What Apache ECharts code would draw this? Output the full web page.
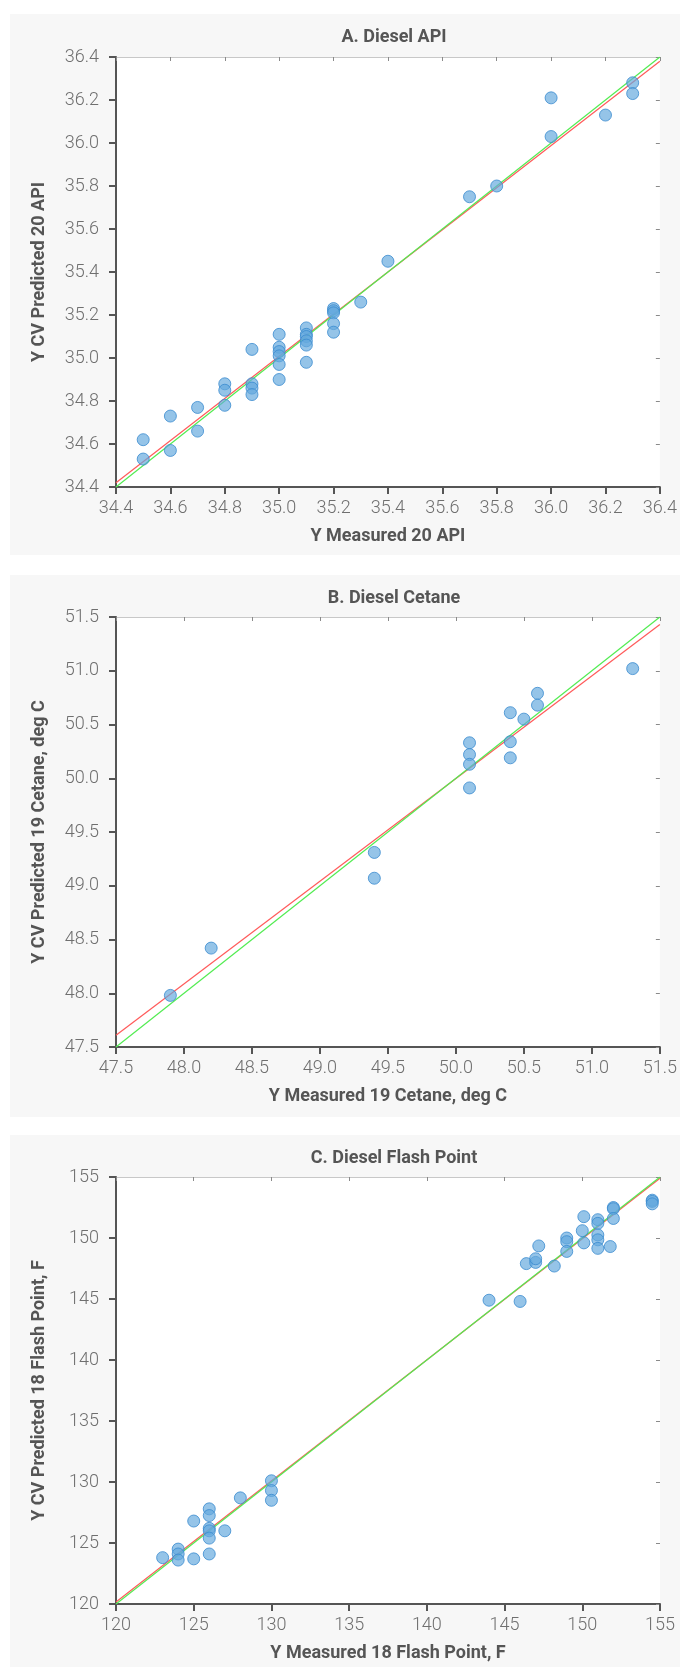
<!DOCTYPE html>
<html>
<head>
<meta charset="utf-8">
<title>Diesel CV predictions</title>
<script src="https://cdn.jsdelivr.net/npm/echarts@6/dist/echarts.min.js"></script>
<style>
  html, body { margin: 0; padding: 0; background: #ffffff; }
  body { width: 680px; height: 1667px; position: relative; overflow: hidden; }
  .panel { position: absolute; left: 10px; width: 670px; }
  #apiChart { top: 14px; height: 541px; }
  #cetaneChart { top: 575px; height: 542px; }
  #flashChart { top: 1135px; height: 532px; }
</style>
</head>
<body>
<div id="apiChart" class="panel"></div>
<div id="cetaneChart" class="panel"></div>
<div id="flashChart" class="panel"></div>
<script>
// ---- A. Diesel API: measured vs. cross-validated prediction ----
const apiTicks = [34.4, 34.6, 34.8, 35.0, 35.2, 35.4, 35.6, 35.8, 36.0, 36.2, 36.4];
const apiPoints = [
  [34.5, 34.62], [34.5, 34.53],
  [34.6, 34.73], [34.6, 34.57],
  [34.7, 34.77], [34.7, 34.66],
  [34.8, 34.88], [34.8, 34.85], [34.8, 34.78],
  [34.9, 35.04], [34.9, 34.88], [34.9, 34.86], [34.9, 34.83],
  [35.0, 35.11], [35.0, 35.05], [35.0, 35.03], [35.0, 35.01], [35.0, 34.97], [35.0, 34.90],
  [35.1, 35.14], [35.1, 35.11], [35.1, 35.10], [35.1, 35.08], [35.1, 35.06], [35.1, 34.98],
  [35.2, 35.23], [35.2, 35.22], [35.2, 35.21], [35.2, 35.16], [35.2, 35.12],
  [35.3, 35.26],
  [35.4, 35.45],
  [35.7, 35.75],
  [35.8, 35.80],
  [36.0, 36.21], [36.0, 36.03],
  [36.2, 36.13],
  [36.3, 36.28], [36.3, 36.23]
];
const apiFit = [[34.4, 34.42], [36.4, 36.38]];
const apiIdeal = [[34.4, 34.4], [36.4, 36.4]];

// ---- B. Diesel Cetane ----
const cetaneTicks = [47.5, 48.0, 48.5, 49.0, 49.5, 50.0, 50.5, 51.0, 51.5];
const cetanePoints = [
  [47.9, 47.98],
  [48.2, 48.42],
  [49.4, 49.31], [49.4, 49.07],
  [50.1, 50.33], [50.1, 50.22], [50.1, 50.13], [50.1, 49.91],
  [50.4, 50.61], [50.4, 50.34], [50.4, 50.19],
  [50.5, 50.55],
  [50.6, 50.79], [50.6, 50.68],
  [51.3, 51.02]
];
const cetaneFit = [[47.5, 47.61], [51.5, 51.43]];
const cetaneIdeal = [[47.5, 47.5], [51.5, 51.5]];

// ---- C. Diesel Flash Point ----
const flashTicks = [120, 125, 130, 135, 140, 145, 150, 155];
const flashPoints = [
  [123, 123.8],
  [124, 124.5], [124, 124.1], [124, 123.6],
  [125, 126.8], [125, 123.7],
  [126, 127.8], [126, 127.25], [126, 126.2], [126, 126.0], [126, 125.4], [126, 124.1],
  [127, 126.0],
  [128, 128.7],
  [130, 130.1], [130, 129.3], [130, 128.5],
  [144, 144.9],
  [146, 144.8],
  [146.4, 147.9],
  [147, 148.0], [147, 148.3],
  [147.2, 149.35],
  [148.2, 147.7],
  [149, 150.0], [149, 149.7], [149, 148.9],
  [150, 150.6],
  [150.1, 151.75], [150.1, 149.6],
  [151, 151.5], [151, 151.2], [151, 150.25], [151, 149.85], [151, 149.15],
  [151.8, 149.3],
  [152, 152.5], [152, 152.4], [152, 151.6],
  [154.5, 153.1], [154.5, 153.0], [154.5, 152.8]
];
const flashFit = [[120, 120.16], [155, 154.9]];
const flashIdeal = [[120, 120], [155, 155]];

const FONT = 'Roboto, "Liberation Sans", Arial, sans-serif';
const DARK = '#555555';

// Bottom / left axes carry the labels, names and heavy outward ticks.
function mainAxis(ticks, name, decimals, isY) {
  return {
    type: 'value',
    position: isY ? 'left' : 'bottom',
    min: ticks[0],
    max: ticks[ticks.length - 1],
    interval: +(ticks[1] - ticks[0]).toFixed(4),
    name: name,
    nameLocation: 'middle',
    nameGap: isY ? 68 : 40,
    nameTextStyle: { fontFamily: FONT, fontSize: 18, fontWeight: 'bold', color: DARK },
    axisLine: { show: true, onZero: false, lineStyle: { color: DARK, width: 2 } },
    axisTick: { show: true, inside: false, length: 7, lineStyle: { color: DARK, width: 2 } },
    axisLabel: {
      fontFamily: FONT, fontSize: 18, fontWeight: 300, color: '#6f6f6f',
      margin: isY ? 17 : 12,
      formatter: v => v.toFixed(decimals)
    },
    splitLine: { show: false }
  };
}

// Top / right axes only mirror the tick positions with small inward marks.
function mirrorAxis(ticks, isY) {
  return {
    type: 'value',
    position: isY ? 'right' : 'top',
    min: ticks[0],
    max: ticks[ticks.length - 1],
    interval: +(ticks[1] - ticks[0]).toFixed(4),
    axisLine: { show: !isY, onZero: false, lineStyle: { color: '#c8c8c8', width: 1 } },
    axisTick: { show: true, inside: true, length: 4, lineStyle: { color: '#8a8a8a', width: 1 } },
    axisLabel: { show: false },
    splitLine: { show: false }
  };
}

function buildOption(cfg) {
  return {
    backgroundColor: '#f7f7f7',
    animation: false,
    title: {
      text: cfg.title,
      left: 379,
      top: 9,
      textAlign: 'center',
      textStyle: { fontFamily: FONT, fontSize: 18, fontWeight: 'bold', color: DARK }
    },
    grid: {
      left: 106, top: cfg.top, width: 544, height: 430,
      show: true, backgroundColor: '#ffffff', borderWidth: 0
    },
    xAxis: [mainAxis(cfg.ticks, cfg.xName, cfg.decimals, false), mirrorAxis(cfg.ticks, false)],
    yAxis: [mainAxis(cfg.ticks, cfg.yName, cfg.decimals, true), mirrorAxis(cfg.ticks, true)],
    series: [
      {
        // regression fit of predicted on measured
        type: 'line', data: cfg.fit, symbol: 'none', silent: true, z: 2,
        lineStyle: { color: '#ff5a5a', width: 1.2 }
      },
      {
        // 1:1 reference line
        type: 'line', data: cfg.ideal, symbol: 'none', silent: true, z: 3,
        lineStyle: { color: '#52ec52', width: 1.2 }
      },
      {
        type: 'scatter', data: cfg.points, symbol: 'circle', symbolSize: 12, z: 5,
        itemStyle: { color: 'rgba(100,168,222,0.85)', borderColor: '#3a8bd0', borderWidth: 1 }
      }
    ]
  };
}

const panels = [
  { el: 'apiChart', title: 'A. Diesel API', top: 43, ticks: apiTicks, decimals: 1,
    xName: 'Y Measured 20 API', yName: 'Y CV Predicted 20 API',
    points: apiPoints, fit: apiFit, ideal: apiIdeal },
  { el: 'cetaneChart', title: 'B. Diesel Cetane', top: 42, ticks: cetaneTicks, decimals: 1,
    xName: 'Y Measured 19 Cetane, deg C', yName: 'Y CV Predicted 19 Cetane, deg C',
    points: cetanePoints, fit: cetaneFit, ideal: cetaneIdeal },
  { el: 'flashChart', title: 'C. Diesel Flash Point', top: 42, ticks: flashTicks, decimals: 0,
    xName: 'Y Measured 18 Flash Point, F', yName: 'Y CV Predicted 18 Flash Point, F',
    points: flashPoints, fit: flashFit, ideal: flashIdeal }
];

panels.forEach(p => {
  const chart = echarts.init(document.getElementById(p.el), null, { renderer: 'canvas' });
  chart.setOption(buildOption(p));
});
</script>
</body>
</html>
